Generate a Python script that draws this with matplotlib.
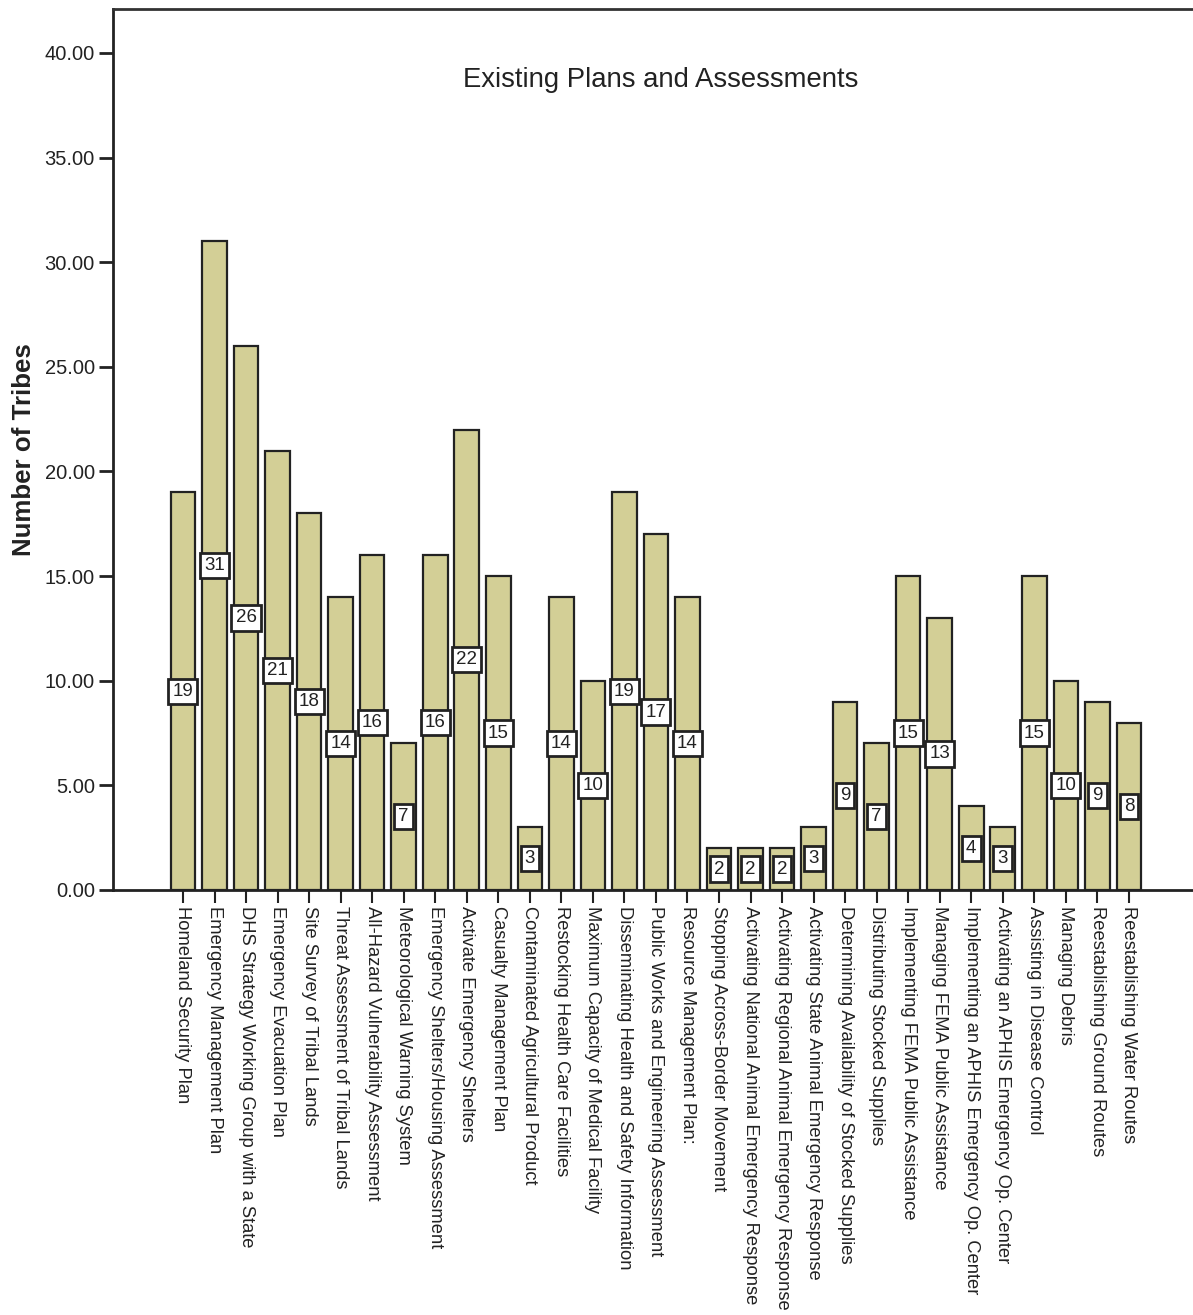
import matplotlib.pyplot as plt

plt.rcParams['font.family'] = ['Liberation Sans', 'DejaVu Sans']

# plans / assessments and how many tribes reported having each
categories = [
    "Homeland Security Plan",
    "Emergency Management Plan",
    "DHS Strategy Working Group with a State",
    "Emergency Evacuation Plan",
    "Site Survey of Tribal Lands",
    "Threat Assessment of Tribal Lands",
    "All-Hazard Vulnerability Assessment",
    "Meteorological Warning System",
    "Emergency Shelters/Housing Assessment",
    "Activate Emergency Shelters",
    "Casualty Management Plan",
    "Contaminated Agricultural Product",
    "Restocking Health Care Facilities",
    "Maximum Capacity of Medical Facility",
    "Disseminating Health and Safety Information",
    "Public Works and Engineering Assessment",
    "Resource Management Plan:",
    "Stopping Across-Border Movement",
    "Activating National Animal Emergency Response",
    "Activating Regional Animal Emergency Response",
    "Activating State Animal Emergency Response",
    "Determining Availability of Stocked Supplies",
    "Distributing Stocked Supplies",
    "Implementing FEMA Public Assistance",
    "Managing FEMA Public Assistance",
    "Implementing an APHIS Emergency Op. Center",
    "Activating an APHIS Emergency Op. Center",
    "Assisting in Disease Control",
    "Managing Debris",
    "Reestablishing Ground Routes",
    "Reestablishing Water Routes",
]
tribes = [19, 31, 26, 21, 18, 14, 16, 7, 16, 22, 15, 3, 14, 10, 19, 17, 14,
          2, 2, 2, 3, 9, 7, 15, 13, 4, 3, 15, 10, 9, 8]
yticks = [0, 5, 10, 15, 20, 25, 30, 35, 40]

fig = plt.figure(figsize=(11.93, 13.15), dpi=100)
ax = fig.add_axes([0.0947, 0.3232, 0.915, 0.670])

x = list(range(len(tribes)))
ax.bar(x, tribes, width=0.78, color='#d3cf96', edgecolor='#222222', linewidth=1.6)

# count boxes sit halfway up each bar
for xi, v in zip(x, tribes):
    ax.text(xi, v / 2, str(v), ha='center', va='center', fontsize=13.5,
            color='#222222',
            bbox=dict(boxstyle='square,pad=0.22', facecolor='white',
                      edgecolor='#222222', linewidth=2))

ax.set_xlim(-2.22, 32.4)
ax.set_ylim(0, 42.1)
ax.set_yticks(yticks)
ax.set_yticklabels(["%.2f" % t for t in yticks], fontsize=14.5, color='#222222')
ax.set_xticks(x)
ax.set_xticklabels(categories, rotation=270, ha='center', va='top',
                   fontsize=13.2, color='#222222')
ax.tick_params(axis='y', length=10, width=2, color='#222222', pad=3)
ax.tick_params(axis='x', length=9.5, width=1.5, color='#222222', pad=2)

for side in ['left', 'bottom']:
    ax.spines[side].set_linewidth(2)
    ax.spines[side].set_color('#222222')
ax.spines['top'].set_linewidth(2)
ax.spines['top'].set_color('#333333')
ax.spines['right'].set_visible(False)

ax.set_ylabel("Number of Tribes", fontsize=18.6, fontweight='bold',
              color='#222222', labelpad=6)
ax.text(0.502, 0.919, "Existing Plans and Assessments", transform=ax.transAxes,
        ha='center', va='center', fontsize=19.8, color='#222222')

fig.savefig("out.png", dpi=100)
